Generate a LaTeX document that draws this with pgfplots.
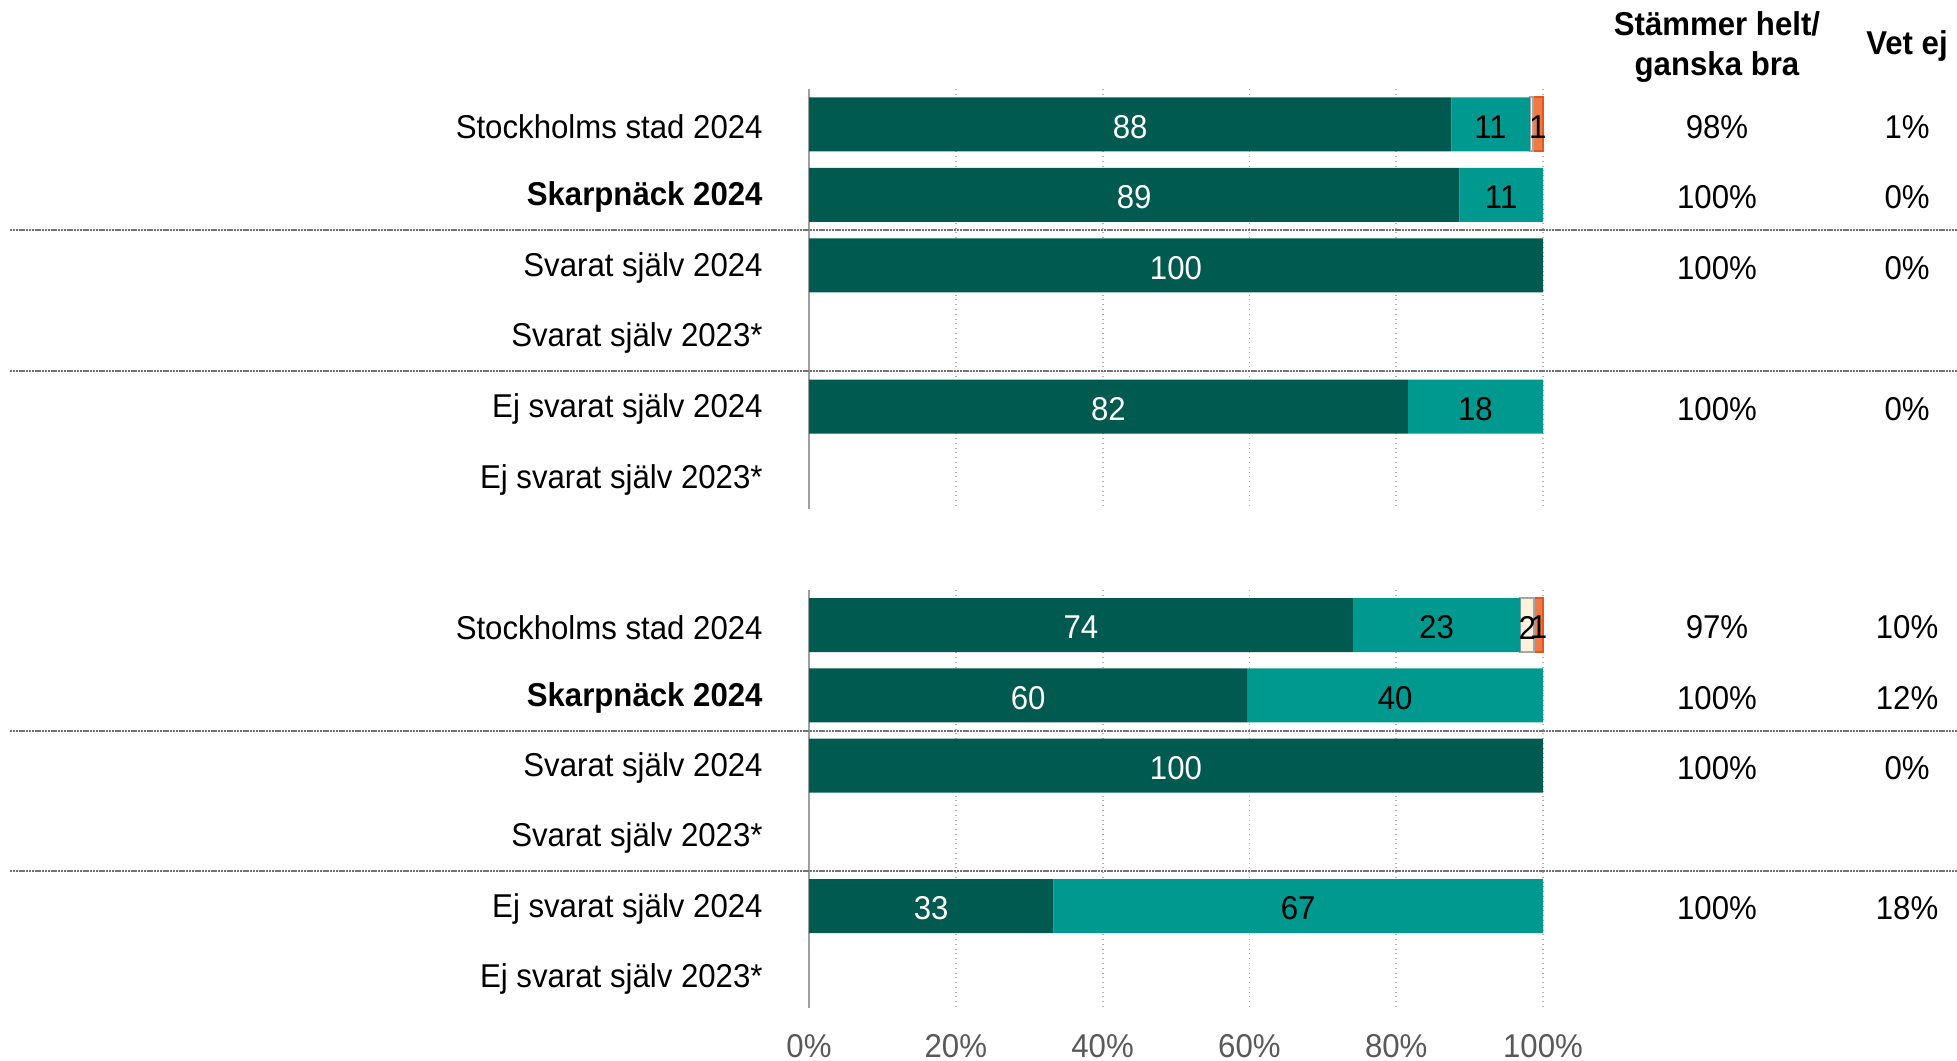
\documentclass[border=0pt]{standalone}
\usepackage{pgfplots}
\pgfplotsset{compat=1.18}
\usepackage{pgfplotstable}
\usepackage{fontspec}
\setmainfont{Liberation Sans}[FakeStretch=0.945]
\definecolor{dgreen}{HTML}{005A4F}
\definecolor{teal2}{HTML}{00998F}
\definecolor{cream}{HTML}{FFF2DC}
\definecolor{orng}{HTML}{E8541C}
\definecolor{orngfill}{HTML}{EE7A45}
\definecolor{ticktext}{HTML}{595959}
\newcommand\cf{\fontsize{16.5bp}{20bp}\selectfont}

% top group bars
\pgfplotstableread{
y a b
0 87.5 10.7
1 88.6 11.4
2 100 0
4 81.6 18.4
}\topbars
\pgfplotstableread{
x y lab
43.75 0 88
44.3 1 89
50 2 100
40.8 4 82
}\topwhite
\pgfplotstableread{
x y lab
92.85 0 11
99.3 0 1
94.3 1 11
90.8 4 18
}\topblack
\pgfplotstableread{
y s v
0 98 1
1 100 0
2 100 0
4 100 0
}\topright

% bottom group bars
\pgfplotstableread{
y a b
0 74.1 22.8
1 59.7 40.3
2 100 0
4 33.3 66.7
}\botbars
\pgfplotstableread{
x y lab
37.05 0 74
29.85 1 60
50 2 100
16.65 4 33
}\botwhite
\pgfplotstableread{
x y lab
85.5 0 23
97.85 0 2
99.4 0 1
79.85 1 40
66.65 4 67
}\botblack
\pgfplotstableread{
y s v
0 97 10
1 100 12
2 100 0
4 100 18
}\botright

\pgfplotsset{
  base/.style={scale only axis, width=367bp, xmin=0, xmax=100, ymin=-0.5, ymax=5.45, y dir=reverse},
  barax/.style={base, xbar stacked, bar width=27bp,
    axis lines*=left, x axis line style={draw=none},
    y axis line style={draw=gray!75, line width=1.2bp},
    xtick={0,20,40,60,80,100}, xmajorgrids,
    major grid style={gray!60, dotted, line width=0.9bp},
    ytick={0,1,2,3,4,5},
    yticklabels={Stockholms stad 2024,\textbf{Skarpnäck 2024},Svarat själv 2024,Svarat själv 2023*,Ej svarat själv 2024,Ej svarat själv 2023*},
    yticklabel style={font=\cf, inner sep=0pt, xshift=-23bp, yshift=-1.2bp},
    major tick length=0pt, clip=false},
  labax/.style={base, hide axis, clip=false},
  wlab/.style={draw=none, mark=none, nodes near coords, point meta=explicit symbolic,
    every node near coord/.append style={anchor=center, text=white, font=\cf, yshift=-1.2bp}},
  blab/.style={draw=none, mark=none, nodes near coords, point meta=explicit symbolic,
    every node near coord/.append style={anchor=center, text=black, font=\cf, yshift=-1.2bp}},
  rlab/.style={draw=none, mark=none, point meta=explicit symbolic,
    nodes near coords={\pgfplotspointmeta\%},
    every node near coord/.append style={anchor=center, text=black, font=\cf, yshift=-1.2bp}},
  sep/.style={draw=black!55, line width=1bp, dash pattern=on 1.2bp off 0.4bp},
}

\begin{document}
\begin{tikzpicture}
\path[use as bounding box] (0,0) rectangle (978.5bp,530.5bp);

% ---------- top group
\begin{axis}[barax, height=210bp, at={(404.5bp,276bp)}, anchor=south west, xticklabels=\empty]
\addplot[fill=dgreen, draw=none] table[x=a, y=y]{\topbars};
\addplot[fill=teal2, draw=none] table[x=b, y=y]{\topbars};
\addplot[fill=cream, draw=gray!70, line width=0.8bp] coordinates {(0.4,0)};
\addplot[fill=orngfill, draw=orng, line width=0.8bp] coordinates {(1.4,0)};
\end{axis}
\begin{axis}[labax, height=210bp, at={(404.5bp,276bp)}, anchor=south west]
\addplot[wlab] table[x=x, y=y, meta=lab]{\topwhite};
\addplot[blab] table[x=x, y=y, meta=lab]{\topblack};
\addplot[rlab] table[x expr=123.7, y=y, meta=s]{\topright};
\addplot[rlab] table[x expr=149.6, y=y, meta=v]{\topright};
\addplot[sep] coordinates {(-108.9,1.5) (156.4,1.5)};
\addplot[sep] coordinates {(-108.9,3.5) (156.4,3.5)};
\end{axis}

% ---------- bottom group
\begin{axis}[barax, height=209bp, at={(404.5bp,26.5bp)}, anchor=south west,
  xticklabels={0\%,20\%,40\%,60\%,80\%,100\%},
  xticklabel style={font=\cf, text=ticktext, inner sep=0pt, yshift=-13bp}]
\addplot[fill=dgreen, draw=none] table[x=a, y=y]{\botbars};
\addplot[fill=teal2, draw=none] table[x=b, y=y]{\botbars};
\addplot[fill=cream, draw=gray!70, line width=0.8bp] coordinates {(1.9,0)};
\addplot[fill=orngfill, draw=orng, line width=0.8bp] coordinates {(1.2,0)};
\end{axis}
\begin{axis}[labax, height=209bp, at={(404.5bp,26.5bp)}, anchor=south west]
\addplot[wlab] table[x=x, y=y, meta=lab]{\botwhite};
\addplot[blab] table[x=x, y=y, meta=lab]{\botblack};
\addplot[rlab] table[x expr=123.7, y=y, meta=s]{\botright};
\addplot[rlab] table[x expr=149.6, y=y, meta=v]{\botright};
\addplot[sep] coordinates {(-108.9,1.5) (156.4,1.5)};
\addplot[sep] coordinates {(-108.9,3.5) (156.4,3.5)};
\end{axis}

% ---------- column headers
\node[font=\cf\bfseries, align=center] at (858.5bp,507bp) {Stämmer helt/\\ganska bra};
\node[font=\cf\bfseries] at (953.5bp,507.5bp) {Vet ej};
\end{tikzpicture}
\end{document}
